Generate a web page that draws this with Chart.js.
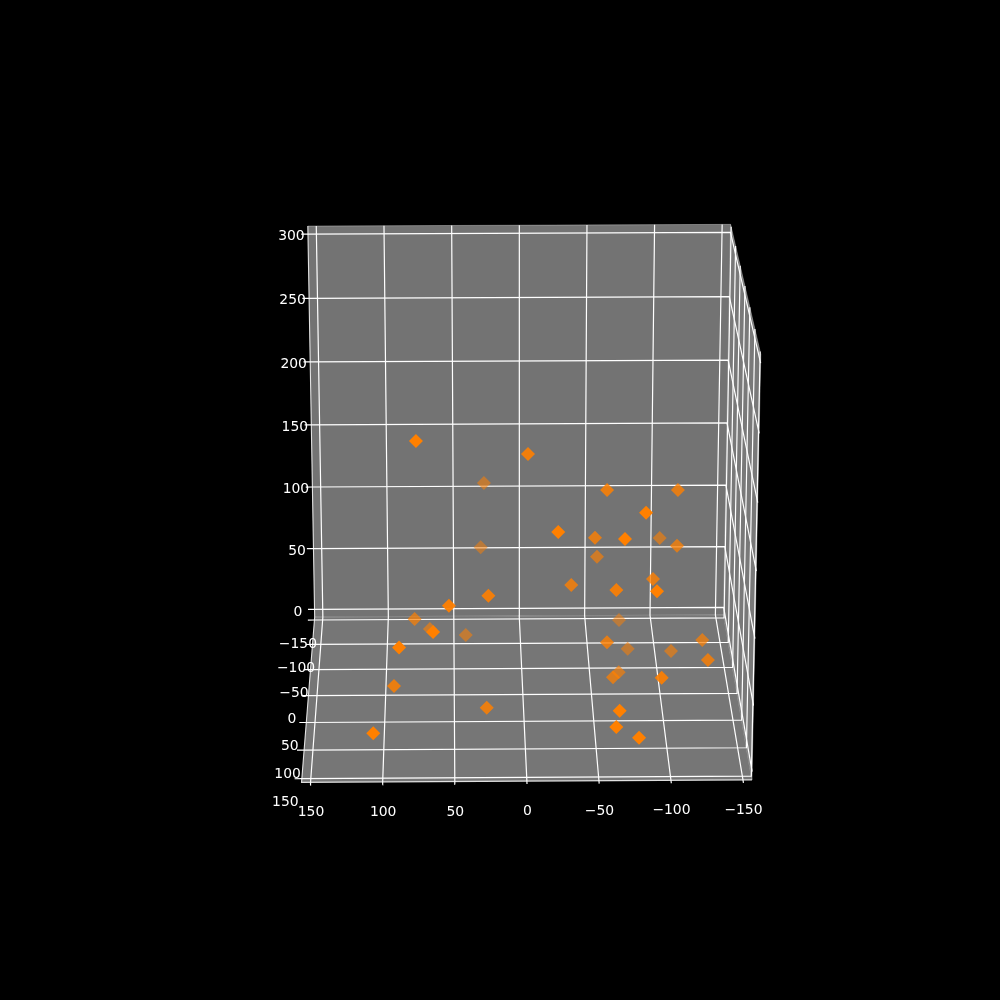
<!DOCTYPE html>
<html>
<head>
<meta charset="utf-8">
<title>3D scatter</title>
<script src="https://cdn.jsdelivr.net/npm/chart.js@4/dist/chart.umd.min.js"></script>
<style>
  html, body { margin: 0; padding: 0; background: #000; }
  canvas { display: block; }
</style>
</head>
<body>
<canvas id="chart" width="1000" height="1000"></canvas>
<script>
// ---------- Data ----------
const pointX = [75.6, -2.7, 27.3, -58.8, -110.0, -83.5, -22.6, -50.8, -68.8, -100.8, -110.2, 29.8, -54.2, -33.7, -64.2, -91.9, -90.8, 25.7, 53.4, 78.3, 67.5, 64.5, 41.3, 88.1, 92.6, 27.1, 106.3, -72.3, -58.9, -77.8, -108.6, -129.1, -130.7, -69.5, -63.8, -95.7, -64.5, -62.1, -77.8];
const pointY = [79.2, 45.5, -79.8, 35.9, 17.7, 98.0, 101.7, 28.5, 104.0, -45.8, 12.4, -82.6, -23.0, 39.6, 78.5, 38.9, 116.5, 78.8, 99.4, 9.2, -25.4, 124.1, -42.2, 127.4, 80.9, 86.9, 147.3, -63.1, 53.8, -37.3, -17.7, 16.9, 58.9, 5.5, 43.7, 99.8, 144.1, 147.9, 150.6];
const pointZ = [218.7, 196.8, 130.1, 166.0, 159.2, 171.5, 158.9, 127.0, 154.3, 98.7, 114.5, 78.2, 92.9, 95.1, 106.3, 99.1, 119.9, 102.5, 103.2, 57.4, 35.7, 93.3, 24.1, 83.2, 34.7, 20.1, 26.8, 27.1, 56.4, 14.4, 20.4, 43.0, 44.5, 13.3, 25.2, 47.9, 41.5, 30.8, 23.8];

const xTicks = [150, 100, 50, 0, -50, -100, -150];
const yTicks = [-150, -100, -50, 0, 50, 100, 150];
const zTicks = [0, 50, 100, 150, 200, 250, 300];

const xLim = [156.25, -156.25];
const yLim = [-156.25, 156.25];
const zLim = [-6.25, 306.25];

// ---------- Camera (fitted to the box in the picture) ----------
const CAMERA = [
  [-0.41182, 0.00521, -0.00054, 0.04575],
  [-0.00196, -0.14019, 0.38443, -0.37332],
  [-0.00058, -0.04648, -0.01658, 1],
];
const depth = (x, y, z) => {
  const r = CAMERA[2];
  return (r[0] * x + r[1] * y + r[2] * z) / 150 + r[3];
};
function project(x, y, z) {
  const w = depth(x, y, z);
  const row = (r) => ((r[0] * x + r[1] * y + r[2] * z) / 150 + r[3]) / w;
  return { x: row(CAMERA[0]), y: row(CAMERA[1]) };
}
const path = (...pts) => pts.map((p) => project(p[0], p[1], p[2]));

// ---------- Styles ----------
const COLORS = {
  back: "#737373",
  side: "#797979",
  floor: "#767676",
  grid: "#ffffff",
  paneEdge: "rgba(255,255,255,0.3)",
  axis: "rgba(255,255,255,0.85)",
  text: "#ffffff",
};
const TICK_LEN = 5;

// nearer points are more solid
const shade = (i) => {
  const t = (depth(pointX[i], pointY[i], pointZ[i]) - 0.951) / (1.03 - 0.951);
  const a = 1 - 0.6 * Math.min(1, Math.max(0, t));
  return `rgba(255,128,0,${a.toFixed(3)})`;
};

// ---------- Datasets ----------
const [x0, x1] = xLim;
const [y0, y1] = yLim;
const [z0, z1] = zLim;

const plainLine = (data, color, width, order) => ({
  data,
  showLine: true,
  borderColor: color,
  borderWidth: width,
  pointRadius: 0,
  fill: false,
  order,
});
const pane = (data, color) => ({
  data,
  showLine: true,
  borderWidth: 0,
  pointRadius: 0,
  backgroundColor: color,
  fill: "shape",
  order: 5,
});

const datasets = [
  {
    data: pointX.map((x, i) => project(x, pointY[i], pointZ[i])),
    pointStyle: "rectRot",
    pointRadius: 7,
    pointBorderWidth: 0,
    pointBackgroundColor: pointX.map((_, i) => shade(i)),
    showLine: false,
    order: 0,
  },
  pane(path([x0, y0, z0], [x1, y0, z0], [x1, y0, z1], [x0, y0, z1]), COLORS.back),
  pane(path([x1, y0, z0], [x1, y1, z0], [x1, y1, z1], [x1, y0, z1]), COLORS.side),
  pane(path([x0, y0, z0], [x1, y0, z0], [x1, y1, z0], [x0, y1, z0]), COLORS.floor),
];

// pane outlines
[
  [[x0, y0, z1], [x1, y0, z1], [x1, y1, z1], [x1, y1, z0]],
  [[x0, y0, z0], [x1, y0, z0], [x1, y0, z1]],
  [[x1, y0, z0], [x1, y1, z0]],
].forEach((p) => datasets.push(plainLine(path(...p), COLORS.paneEdge, 1, 3)));

// axis lines
[
  [[x0, y0, z1], [x0, y0, z0], [x0, y1, z0], [x1, y1, z0]],
].forEach((p) => datasets.push(plainLine(path(...p), COLORS.axis, 1.1, 2)));

// grid and tick marks
xTicks.forEach((v) => {
  datasets.push(plainLine(path([v, y1 + TICK_LEN, z0], [v, y1, z0], [v, y0, z0], [v, y0, z1]), COLORS.grid, 1.2, 1));
});
yTicks.forEach((v) => {
  datasets.push(plainLine(path([x0 + TICK_LEN, v, z0], [x0, v, z0], [x1, v, z0], [x1, v, z1]), COLORS.grid, 1.2, 1));
});
zTicks.forEach((v) => {
  datasets.push(plainLine(path([x0 + TICK_LEN, y0, v], [x0, y0, v], [x1, y0, v], [x1, y1, v]), COLORS.grid, 1.2, 1));
});

// ---------- Tick labels ----------
const tickText = (v) => String(v).replace("-", "\u2212");
const tickLabels = {
  id: "tickLabels",
  afterDraw(chart) {
    const { ctx, scales } = chart;
    const put = (p, dx, dy, v) => {
      ctx.fillText(tickText(v), scales.x.getPixelForValue(p.x) + dx, scales.y.getPixelForValue(p.y) + dy);
    };
    ctx.save();
    ctx.fillStyle = COLORS.text;
    ctx.font = '13.9px "DejaVu Sans"';
    ctx.textAlign = "center";
    ctx.textBaseline = "middle";
    xTicks.forEach((v) => put(project(v, y1, z0), 0.5, 30.5, v));
    yTicks.forEach((v) => put(project(x0, v, z0), -16.5, 24, v));
    zTicks.forEach((v) => put(project(x0, y0, v), -16.5, 2.5, v));
    ctx.restore();
  },
};

// ---------- Chart ----------
new Chart(document.getElementById("chart").getContext("2d"), {
  type: "scatter",
  data: { datasets },
  plugins: [tickLabels],
  options: {
    responsive: false,
    animation: false,
    devicePixelRatio: 1,
    layout: { padding: 0, autoPadding: false },
    scales: {
      x: { type: "linear", display: false, min: -1, max: 1 },
      y: { type: "linear", display: false, min: -1, max: 1 },
    },
    plugins: { legend: { display: false }, tooltip: { enabled: false } },
  },
});
</script>
</body>
</html>
